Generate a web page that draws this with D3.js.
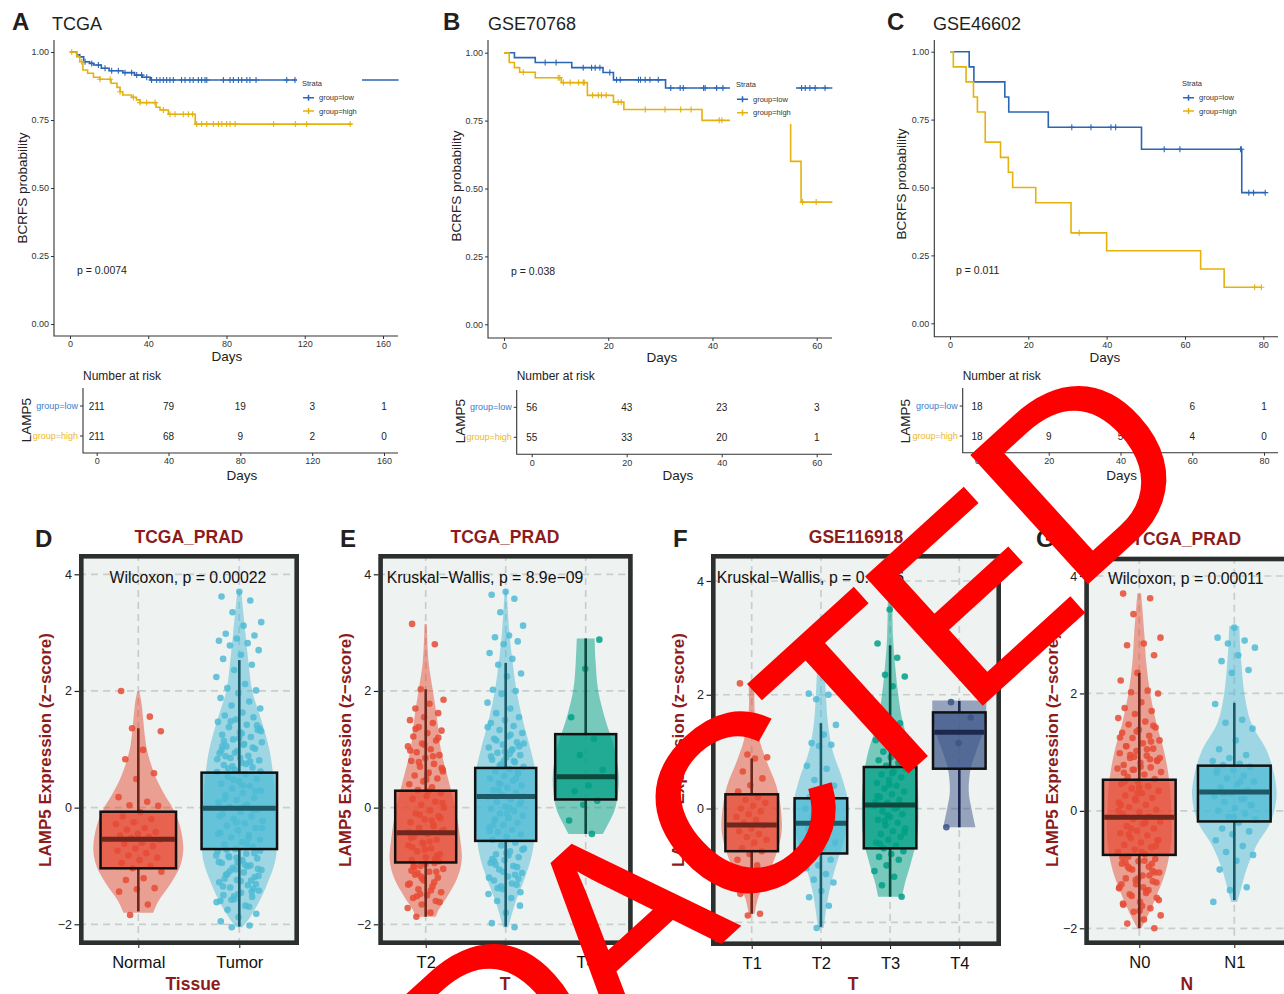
<!DOCTYPE html>
<html><head><meta charset="utf-8">
<script src="https://cdn.jsdelivr.net/npm/d3@7"></script>
<style>body{margin:0;background:#fff}svg{display:block}</style>
</head><body><svg id="c" width="1284" height="994"></svg>
<script>
// ================= DATA =================
const kmLetters = ["A", "B", "C"];
const kmTitles = ["TCGA", "GSE70768", "GSE46602"];
const kmPvals = ["p = 0.0074", "p = 0.038", "p = 0.011"];
const kmYTicks = [0, 0.25, 0.5, 0.75, 1];
const strataNames = ["group=low", "group=high"];

// TCGA
const tcgaXTicks = [0, 40, 80, 120, 160];
const tcgaLowSteps = [[0,1],[3.4,0.99],[5,0.982],[7,0.964],[10,0.958],[12,0.952],[16,0.94],[20,0.931],[27,0.924],[33,0.915],[37,0.907],[41,0.897]];
const tcgaLowEnd = 168;
const tcgaLowCens = [7.7,11.1,14.5,17.9,21.3,24.7,28.1,31.5,34.1,36.6,39.2,41.7,44.3,46,47.7,49.4,51.1,52.8,57,58.8,61.3,63,65.6,67.3,69,69.9,78.4,81.8,83.5,86.1,87.8,90.4,92,95.1,110.8,115];
const tcgaHighSteps = [[0,1],[3.5,0.982],[5,0.964],[6.6,0.934],[9,0.922],[12,0.907],[15.3,0.9],[21,0.885],[24,0.87],[25.6,0.854],[27,0.842],[31.5,0.833],[34,0.824],[35.8,0.814],[44,0.797],[46,0.787],[50.3,0.771],[64,0.735]];
const tcgaHighEnd = 144;
const tcgaHighCens = [0.9,6,15.3,20.5,25.6,32.4,35.8,39.2,43.5,47.7,51.1,53.7,57.9,60.5,62.7,64.8,67.3,69.9,73.3,75.9,77.6,80.1,81.8,84.4,104.1,115.2,121,143.2];
const tcgaRiskTimes = [0, 40, 80, 120, 160];
const tcgaRiskLow = [211, 79, 19, 3, 1];
const tcgaRiskHigh = [211, 68, 9, 2, 0];

// GSE70768
const g7XTicks = [0, 20, 40, 60];
const g7LowSteps = [[0,1],[2,0.982],[6,0.964],[13,0.945],[19,0.927],[21,0.9],[31,0.87]];
const g7LowEnd = 63;
const g7LowCens = [7.9,10,15.2,16.8,17.5,18.4,20.3,21.6,22.3,25.8,26.2,27.1,28,29.6,32,33.8,34.4,38.3,38.6,40.8,42,57.1,57.8,58.7,59.7,61.6];
const g7HighSteps = [[0,1],[1,0.964],[2,0.945],[3,0.928],[6,0.908],[11,0.89],[16,0.843],[21,0.818],[23,0.791],[38,0.751],[55,0.6],[57,0.45]];
const g7HighEnd = 63;
const g7HighCens = [3.7,10.4,10.7,11.4,12.7,14.3,15.2,15.4,17,18.1,18.7,19.6,21.9,22.5,27.1,30.9,33.9,35.9,41.3,41.8,57.3,59.9];
const g7RiskTimes = [0, 20, 40, 60];
const g7RiskLow = [56, 43, 23, 3];
const g7RiskHigh = [55, 33, 20, 1];

// GSE46602
const g4XTicks = [0, 20, 40, 60, 80];
const g4LowSteps = [[0,1],[4.9,0.944],[6.1,0.889],[14,0.833],[15,0.778],[25.1,0.722],[48.9,0.641],[74.5,0.481]];
const g4LowEnd = 80.5;
const g4LowCens = [31.1,36,41.1,42.3,54.7,58.7,74.2,74.4,76.3,77.5,80.5];
const g4HighSteps = [[0,1],[0.85,0.944],[4.1,0.889],[6,0.833],[7,0.778],[9,0.667],[12.9,0.611],[14.9,0.556],[16,0.5],[21.9,0.444],[30.9,0.333],[40,0.267],[64,0.2],[70,0.133]];
const g4HighEnd = 79.6;
const g4HighCens = [33,77.8,79.5];
const g4RiskTimes = [0, 20, 40, 60, 80];
const g4RiskLow = [18, 14, 11, 6, 1];
const g4RiskHigh = [18, 9, 5, 4, 0];

// Box/violin panels
const boxLetters = ["D", "E", "F", "G"];
const boxTitles = ["TCGA_PRAD", "TCGA_PRAD", "GSE116918", "TCGA_PRAD"];
const boxTests = ["Wilcoxon, p = 0.00022", "Kruskal\u2212Wallis, p = 8.9e\u221209", "Kruskal\u2212Wallis, p = 0.0016", "Wilcoxon, p = 0.00011"];
const boxXTitles = ["Tissue", "T", "T", "N"];
const boxYTicks = [-2, 0, 2, 4];
const catsD = ["Normal", "Tumor"];
const catsE = ["T2", "T3", "T4"];
const catsF = ["T1", "T2", "T3", "T4"];
const catsG = ["N0", "N1"];

// box stats: [lower whisker, q1, median, q3, upper whisker]
const statsD = [[-1.78,-1.04,-0.54,-0.07,1.36],[-2.04,-0.71,-0.01,0.6,2.53]];
const statsE = [[-1.87,-0.94,-0.43,0.29,2.03],[-2.04,-0.57,0.19,0.68,2.48],[-0.45,0.14,0.53,1.26,2.9]];
const statsF = [[-1.85,-0.75,-0.29,0.25,0.88],[-2.08,-0.79,-0.26,0.18,1.5],[-1.55,-0.7,0.06,0.73,2.87],[-0.33,0.7,1.34,1.69,1.89]];
const statsG = [[-2.0,-0.75,-0.11,0.53,2.35],[-1.52,-0.18,0.32,0.77,1.84]];

// violin profiles: [value, relative density]
const violD = [
  [[2.0,0.02],[1.8,0.07],[1.5,0.11],[1.2,0.15],[1.0,0.19],[0.7,0.3],[0.5,0.4],[0.2,0.6],[0,0.76],[-0.3,0.92],[-0.7,1],[-1.0,0.93],[-1.3,0.72],[-1.6,0.45],[-1.8,0.33]],
  [[3.72,0.05],[3.0,0.16],[2.5,0.24],[2.0,0.34],[1.5,0.58],[1.0,0.79],[0.5,0.9],[0,0.95],[-0.5,1],[-0.9,0.95],[-1.3,0.74],[-1.6,0.53],[-1.9,0.26],[-2.05,0.08]]];
const violE = [
  [[3.15,0.03],[2.5,0.08],[2.0,0.2],[1.6,0.3],[1.0,0.42],[0.5,0.62],[0,0.82],[-0.5,0.95],[-0.9,1],[-1.2,0.88],[-1.5,0.62],[-1.75,0.36],[-1.87,0.28]],
  [[3.75,0.03],[3.0,0.12],[2.5,0.22],[2.0,0.35],[1.5,0.55],[1.0,0.8],[0.5,1],[0.1,1],[-0.3,0.96],[-0.8,0.85],[-1.2,0.62],[-1.6,0.33],[-2.05,0.08]],
  [[2.9,0.27],[2.5,0.3],[2.0,0.38],[1.5,0.6],[1.0,0.88],[0.5,1],[0,0.9],[-0.3,0.66],[-0.45,0.52]]];
const violF = [
  [[2.2,0.1],[1.7,0.1],[1.2,0.26],[0.8,0.52],[0.4,0.82],[0,0.97],[-0.4,1],[-0.8,0.82],[-1.2,0.5],[-1.6,0.2],[-1.85,0.1]],
  [[3.0,0.07],[2.4,0.14],[2.0,0.18],[1.5,0.25],[1.0,0.43],[0.5,0.78],[0,1],[-0.5,0.86],[-1.0,0.54],[-1.5,0.28],[-2.1,0.1]],
  [[3.8,0.07],[3.0,0.1],[2.5,0.17],[2.0,0.27],[1.5,0.43],[1.0,0.73],[0.5,0.9],[0,0.94],[-0.5,0.9],[-1.0,0.67],[-1.3,0.5],[-1.55,0.4]],
  [[1.9,1],[1.6,0.98],[1.3,0.85],[1.0,0.62],[0.7,0.42],[0.3,0.35],[0,0.45],[-0.33,0.6]]];
const violG = [
  [[3.7,0.06],[3.0,0.16],[2.5,0.22],[2.0,0.34],[1.5,0.53],[1.0,0.78],[0.5,0.94],[0,1],[-0.5,1],[-1.0,0.84],[-1.5,0.5],[-1.8,0.25],[-2.0,0.06]],
  [[3.15,0.12],[2.8,0.14],[2.5,0.17],[2.0,0.24],[1.5,0.4],[1.0,0.79],[0.5,0.98],[0.2,1],[-0.2,0.86],[-0.6,0.52],[-1.0,0.29],[-1.3,0.17],[-1.55,0.07]]];

// points (LAMP5 z-scores)
const ptsD = [
  [2.0,1.56,1.36,1.31,0.99,0.83,0.59,0.49,0.18,0.1,0.04,0.03,-0.08,-0.15,-0.2,-0.25,-0.28,-0.35,-0.38,-0.42,-0.45,-0.48,-0.5,-0.52,-0.55,-0.6,-0.62,-0.66,-0.7,-0.74,-0.78,-0.82,-0.86,-0.9,-0.95,-1.0,-1.04,-1.1,-1.21,-1.24,-1.38,-1.4,-1.44,-1.66,-1.84],
  [3.7,3.62,3.55,3.35,3.18,3.12,2.98,2.95,2.9,2.86,2.82,2.78,2.7,2.62,2.55,2.45,2.36,2.24,2.12,2.05,2.01,1.96,1.88,1.82,1.75,1.7,1.63,1.58,1.55,1.51,1.47,1.42,1.38,1.33,1.29,1.25,1.21,1.17,1.12,1.09,1.05,1.01,0.97,0.93,0.89,0.85,0.81,0.77,0.73,0.69,0.65,0.61,0.57,0.53,0.49,0.45,0.41,0.37,0.33,0.29,0.25,0.21,0.17,0.13,0.09,0.05,0.01,-0.03,-0.07,-0.11,-0.15,-0.19,-0.23,-0.27,-0.31,-0.35,-0.39,-0.43,-0.47,-0.51,-0.55,-0.59,-0.63,-0.67,-0.71,-0.75,-0.79,-0.83,-0.87,-0.91,-0.95,-0.99,-1.03,-1.07,-1.11,-1.15,-1.19,-1.24,-1.28,-1.33,-1.37,-1.42,-1.46,-1.5,-1.53,-1.57,-1.62,-1.68,-1.75,-1.82,-1.88,-1.95,-2.02,-2.05,0.62,0.38,0.15,-0.05,-0.25,-0.45,-0.62,-0.85,-1.05,0.85,1.05,-1.25,0.48,-0.35,0.02,-0.72,0.28,-0.95,-0.15,-0.52,
   1.48,1.36,1.27,1.14,1.03,0.94,0.83,0.75,0.67,1.41,1.19,0.98,0.79,0.71,1.31,1.08,0.88,-0.78,-0.86,-0.93,-1.01,-1.09,-1.17,-1.26,-1.35,-1.44,-1.52,-0.82,-0.98,-1.14,-1.31,-1.48,-1.6,-1.7,-1.58,-0.74,-0.9,-1.22,-1.39,-1.06]];
const ptsE = [
  [3.15,2.8,2.03,1.85,1.78,1.7,1.62,1.55,1.5,1.45,1.38,1.32,1.28,1.22,1.15,1.1,1.05,1.0,0.95,0.9,0.85,0.8,0.75,0.7,0.65,0.6,0.55,0.5,0.45,0.4,0.35,0.3,0.25,0.2,0.15,0.1,0.05,0.0,-0.05,-0.1,-0.15,-0.2,-0.25,-0.3,-0.35,-0.4,-0.45,-0.5,-0.55,-0.6,-0.65,-0.7,-0.75,-0.8,-0.85,-0.9,-0.95,-1.0,-1.05,-1.1,-1.15,-1.2,-1.25,-1.3,-1.35,-1.4,-1.45,-1.5,-1.55,-1.6,-1.66,-1.72,-1.8,-1.87,-0.92,-0.72,-0.52,-0.32,-0.12,0.08,0.28,-1.02,-0.82,-0.62,-0.42,-0.22,-1.12,-0.18,0.48,-0.68,-0.88,-1.18,-0.38,-0.58,
   1.35,1.2,1.08,0.98,0.88,0.78,0.68,0.58,-1.0,-1.1,-1.22,-1.32,-1.42,-1.52,-1.62,-0.96,-1.08,-1.28,-1.48,0.62],
  [3.7,3.65,3.58,3.35,3.12,2.95,2.92,2.85,2.8,2.65,2.55,2.45,2.3,2.25,2.02,2.0,1.95,1.8,1.7,1.62,1.55,1.5,1.45,1.4,1.33,1.28,1.22,1.18,1.12,1.08,1.03,0.98,0.94,0.9,0.86,0.82,0.78,0.74,0.7,0.66,0.62,0.58,0.54,0.5,0.46,0.42,0.38,0.34,0.3,0.26,0.22,0.18,0.14,0.1,0.06,0.02,-0.02,-0.06,-0.1,-0.14,-0.18,-0.22,-0.26,-0.3,-0.34,-0.38,-0.42,-0.46,-0.5,-0.55,-0.6,-0.65,-0.7,-0.75,-0.8,-0.85,-0.9,-0.95,-1.0,-1.06,-1.12,-1.18,-1.25,-1.32,-1.4,-1.48,-1.55,-1.6,-1.68,-1.8,-1.98,-2.05,0.4,0.2,0.0,-0.2,0.6,0.8,-0.4,1.0,0.3,0.1,-0.1,-0.3,0.5,0.7,
   1.38,1.25,1.15,1.05,0.96,0.88,0.8,0.72,-0.72,-0.82,-0.92,-1.02,-1.1,-1.2,-1.3,-1.38,-1.45,-0.78,-0.88,-1.15,-1.35,1.1,0.92,-0.98,-1.22],
  [2.88,2.38,1.55,1.18,0.9,0.65,0.38,0.28,0.12,0.05,-0.22,-0.45]];
const ptsF = [
  [2.2,2.1,0.95,0.9,0.88,0.65,0.53,0.41,0.3,0.2,0.15,0.1,0.05,0.0,-0.05,-0.1,-0.15,-0.2,-0.25,-0.3,-0.35,-0.4,-0.45,-0.5,-0.55,-0.6,-0.7,-0.75,-0.8,-0.9,-1.0,-1.1,-1.2,-1.3,-1.5,-1.85,-1.88],
  [2.98,2.02,2.0,1.92,1.47,1.3,1.15,1.12,1.1,0.75,0.7,0.5,0.4,0.3,0.2,0.1,0.05,0.0,-0.1,-0.15,-0.2,-0.3,-0.35,-0.4,-0.5,-0.6,-0.7,-0.8,-0.9,-1.0,-1.05,-1.15,-1.25,-1.3,-1.45,-1.56,-1.71,-2.1],
  [3.8,3.5,2.9,2.65,2.35,2.32,2.15,1.75,1.5,1.3,1.2,1.1,1.0,0.95,0.9,0.85,0.8,0.75,0.7,0.65,0.6,0.55,0.5,0.45,0.4,0.35,0.3,0.25,0.2,0.15,0.1,0.05,0.0,-0.05,-0.1,-0.15,-0.2,-0.25,-0.3,-0.35,-0.4,-0.45,-0.5,-0.55,-0.6,-0.65,-0.7,-0.75,-0.8,-0.85,-0.9,-1.0,-1.1,-1.2,-1.35,-1.55,0.42,0.22,0.02,-0.22,-0.42,0.62,-0.62,0.82,-0.12,0.12],
  [1.87,1.6,1.15,-0.33]];
const ptsG = [
  [3.7,3.62,3.35,2.95,2.85,2.82,2.65,2.35,2.22,2.05,2.02,2.0,1.85,1.75,1.7,1.65,1.58,1.52,1.47,1.42,1.38,1.33,1.28,1.24,1.2,1.15,1.1,1.06,1.02,0.98,0.94,0.9,0.86,0.82,0.78,0.74,0.7,0.66,0.62,0.58,0.54,0.5,0.46,0.42,0.38,0.34,0.3,0.26,0.22,0.18,0.14,0.1,0.06,0.02,-0.02,-0.06,-0.1,-0.14,-0.18,-0.22,-0.26,-0.3,-0.34,-0.38,-0.42,-0.46,-0.5,-0.54,-0.58,-0.62,-0.66,-0.7,-0.74,-0.78,-0.82,-0.86,-0.9,-0.95,-1.0,-1.05,-1.1,-1.15,-1.2,-1.25,-1.3,-1.36,-1.42,-1.48,-1.55,-1.6,-1.66,-1.72,-1.78,-1.85,-1.92,-2.0,0.3,0.1,-0.1,-0.3,-0.5,-0.7,0.5,-0.9,0.2,0.0,-0.2,-0.4,-0.6,0.4,-0.8,-1.1,0.7,0.9,-1.3,1.1,
   1.45,1.35,1.25,1.05,0.95,0.85,0.75,0.65,1.18,0.92,0.72,-0.85,-0.95,-1.05,-1.15,-1.25,-1.35,-1.45,-1.52,-1.62,-0.88,-1.02,-1.18,-1.32,-1.4,-0.98,-1.22,-1.7,-1.58,0.88],
  [3.12,2.95,2.9,2.85,2.78,2.65,2.55,2.4,2.35,1.82,1.55,1.5,1.4,1.2,1.05,0.95,0.9,0.85,0.8,0.78,0.75,0.7,0.65,0.6,0.55,0.5,0.45,0.4,0.35,0.3,0.25,0.2,0.15,0.1,0.05,0.0,-0.05,-0.1,-0.15,-0.2,-0.3,-0.35,-0.4,-0.5,-0.6,-0.7,-0.75,-0.85,-1.0,-1.3,-1.35,-1.55,0.5,0.3,0.1,-0.1,0.7,0.2]];

const overlayText = "REDACTED";

// ================= STYLE =================
const FONT = "'Liberation Sans', Arial, Helvetica, sans-serif";
const strataColors = ["#2b66b5", "#e5b10c"];
const strataLabelColors = ["#4479cc", "#ecb82a"];
const npg = ["#E64B35", "#4DBBD5", "#00A087", "#3C5488"];
const npgDark = ["#6f271d", "#1c5a68", "#0c4a3c", "#1d2850"];
const titleRed = "#8c1c1c";

const svg = d3.select("#c").attr("font-family", FONT);

function styleAxis(sel, fs, col) {
  sel.attr("font-family", null).attr("font-size", null);
  sel.selectAll(".domain").remove();
  sel.selectAll(".tick line").attr("stroke", col);
  sel.selectAll(".tick text").attr("font-size", fs).attr("fill", col);
}
function survAt(steps, t) { let s = 1; for (const [tt, ss] of steps) if (tt <= t) s = ss; return s; }

// ================= KM =================
const kmLayouts = [
  {letterX:12, titleX:52, xr:[70,383], yr:[324,52], axX:54, axTop:40, axY:336, axEnd:398, yTitleX:22, yTitleY:188, daysX:227, daysY:356, pX:77, pY:270,
   legend:{x:302, strataY:83, lowY:97.7, highY:111, cover:[297,75,65,43]},
   risk:{xr:[96.7,384], axX:83, axTop:388, axY:453, lowY:406, highY:436, daysX:242, lampX:26, lampY:420}},
  {letterX:443, titleX:488, xr:[504,816.7], yr:[324.3,52.7], axX:488, axTop:40, axY:338, axEnd:832, yTitleX:456, yTitleY:186, daysX:662, daysY:357, pX:511, pY:271,
   legend:{x:736, strataY:84.7, lowY:99.3, highY:112.7, cover:[730,76,66,48]},
   risk:{xr:[531.7,816.7], axX:516.7, axTop:390, axY:454.3, lowY:407.3, highY:437.3, daysX:678, lampX:460, lampY:421}},
  {letterX:887, titleX:933, xr:[950,1263.3], yr:[323.3,51.7], axX:934.3, axTop:40, axY:336.7, axEnd:1278, yTitleX:901, yTitleY:184, daysX:1105, daysY:357, pX:956, pY:270,
   legend:{x:1182, strataY:83, lowY:97.7, highY:111, cover:[1178,75,70,43]},
   risk:{xr:[977,1264], axX:962.7, axTop:388, axY:452.7, lowY:406, highY:436, daysX:1121.7, lampX:905, lampY:421}}
];
const kmData = [
  {tmax:160, xticks:tcgaXTicks, strata:[{steps:tcgaLowSteps,end:tcgaLowEnd,cens:tcgaLowCens},{steps:tcgaHighSteps,end:tcgaHighEnd,cens:tcgaHighCens}], riskT:tcgaRiskTimes, risk:[tcgaRiskLow,tcgaRiskHigh]},
  {tmax:60, xticks:g7XTicks, strata:[{steps:g7LowSteps,end:g7LowEnd,cens:g7LowCens},{steps:g7HighSteps,end:g7HighEnd,cens:g7HighCens}], riskT:g7RiskTimes, risk:[g7RiskLow,g7RiskHigh]},
  {tmax:80, xticks:g4XTicks, strata:[{steps:g4LowSteps,end:g4LowEnd,cens:g4LowCens},{steps:g4HighSteps,end:g4HighEnd,cens:g4HighCens}], riskT:g4RiskTimes, risk:[g4RiskLow,g4RiskHigh]}
];

kmData.forEach((D, k) => {
  const L = kmLayouts[k];
  const g = svg.append("g");
  const ink = "#333";
  const x = d3.scaleLinear().domain([0, D.tmax]).range(L.xr);
  const y = d3.scaleLinear().domain([0, 1]).range(L.yr);
  g.append("text").attr("x", L.letterX).attr("y", 30).attr("font-size", 24).attr("font-weight", "bold").attr("fill", "#231f20").text(kmLetters[k]);
  g.append("text").attr("x", L.titleX).attr("y", 29.5).attr("font-size", 18).attr("fill", "#231f20").text(kmTitles[k]);
  const ya = g.append("g").attr("transform", `translate(${L.axX},0)`)
    .call(d3.axisLeft(y).tickValues(kmYTicks).tickFormat(d3.format(".2f")).tickSize(3).tickPadding(2));
  styleAxis(ya, 9, ink);
  const xa = g.append("g").attr("transform", `translate(0,${L.axY})`)
    .call(d3.axisBottom(x).tickValues(D.xticks).tickSize(3).tickPadding(2));
  styleAxis(xa, 9, ink);
  g.append("path").attr("d", `M${L.axX},${L.axTop}V${L.axY}H${L.axEnd}`).attr("fill", "none").attr("stroke", ink).attr("stroke-width", 1.1);
  g.append("text").attr("transform", `translate(${L.yTitleX},${L.yTitleY}) rotate(-90)`).attr("text-anchor", "middle").attr("dy", "0.35em")
    .attr("font-size", 13.5).attr("fill", "#222").text("BCRFS probability");
  g.append("text").attr("x", L.daysX).attr("y", L.daysY).attr("dy", "0.35em").attr("text-anchor", "middle").attr("font-size", 13.5).attr("fill", "#222").text("Days");
  g.append("text").attr("x", L.pX).attr("y", L.pY).attr("dy", "0.35em").attr("font-size", 10.5).attr("fill", "#222").text(kmPvals[k]);

  const line = d3.line().x(d => x(d[0])).y(d => y(d[1])).curve(d3.curveStepAfter);
  D.strata.forEach((s, i) => {
    const pts = s.steps.concat([[s.end, s.steps[s.steps.length - 1][1]]]);
    g.append("path").attr("d", line(pts)).attr("fill", "none").attr("stroke", strataColors[i]).attr("stroke-width", 1.6);
    g.append("path").attr("d", s.cens.map(t => { const cx = x(t), cy = y(survAt(s.steps, t)); return `M${cx - 3},${cy}h6M${cx},${cy - 3}v6`; }).join(""))
      .attr("stroke", strataColors[i]).attr("stroke-width", 1.1).attr("fill", "none");
  });
  // legend
  const lg = L.legend;
  g.append("rect").attr("x", lg.cover[0]).attr("y", lg.cover[1]).attr("width", lg.cover[2]).attr("height", lg.cover[3]).attr("fill", "#fff");
  g.append("text").attr("x", lg.x).attr("y", lg.strataY).attr("dy", "0.35em").attr("font-size", 7.5).attr("fill", "#333").text("Strata");
  strataNames.forEach((n, i) => {
    const yy = i ? lg.highY : lg.lowY;
    g.append("path").attr("d", `M${lg.x + 1},${yy}h11M${lg.x + 6.5},${yy - 3}v6`).attr("stroke", strataColors[i]).attr("stroke-width", 1.5);
    g.append("text").attr("x", lg.x + 17).attr("y", yy).attr("dy", "0.35em").attr("font-size", 7.5).attr("fill", "#333").text(n);
  });
  // risk table
  const R = L.risk;
  const rx = d3.scaleLinear().domain([0, D.tmax]).range(R.xr);
  g.append("text").attr("x", R.axX).attr("y", 376).attr("dy", "0.35em").attr("font-size", 12).attr("fill", "#222").text("Number at risk");
  const rxa = g.append("g").attr("transform", `translate(0,${R.axY})`).call(d3.axisBottom(rx).tickValues(D.riskT).tickSize(3).tickPadding(2));
  styleAxis(rxa, 9, ink);
  g.append("path").attr("d", `M${R.axX},${R.axTop}V${R.axY}H${L.axEnd}`).attr("fill", "none").attr("stroke", ink).attr("stroke-width", 1.1);
  D.risk.forEach((arr, i) => {
    const yy = i ? R.highY : R.lowY;
    g.append("line").attr("x1", R.axX - 3).attr("x2", R.axX).attr("y1", yy).attr("y2", yy).attr("stroke", ink);
    g.append("text").attr("x", R.axX - 5).attr("y", yy).attr("dy", "0.35em").attr("text-anchor", "end").attr("font-size", 9).attr("fill", strataLabelColors[i]).text(strataNames[i]);
    arr.forEach((n, j) => g.append("text").attr("x", rx(D.riskT[j])).attr("y", yy).attr("dy", "0.35em").attr("text-anchor", "middle").attr("font-size", 10).attr("fill", "#222").text(n));
  });
  g.append("text").attr("x", R.daysX).attr("y", 475).attr("dy", "0.35em").attr("text-anchor", "middle").attr("font-size", 13.5).attr("fill", "#222").text("Days");
  g.append("text").attr("transform", `translate(${R.lampX},${R.lampY}) rotate(-90)`).attr("text-anchor", "middle").attr("dy", "0.35em").attr("font-size", 13.5).attr("fill", "#222").text("LAMP5");
});

// ================= BOX / VIOLIN =================
const boxLayouts = [
  {frame:[79,554,299,945], cx:[138.3,239.3], y4:574.3, ym2:924.3, boxW:75.5, hw:[45,38], letterX:35, titleX:189, titleY:542.5, testX:188, testAnchor:"middle", testY:577, yTitleX:45, xTitleX:193},
  {frame:[378.3,554,632.7,945], cx:[425.7,585.7], y4:574.3, ym2:924.3, boxW:61, hw:[36,31,33], letterX:340, titleX:505, titleY:542.5, testX:386.7, testAnchor:"start", testY:577, yTitleX:345, xTitleX:505},
  {frame:[711,554,1001,946], cx:[751.7,959.3], y4:581, ym2:922.3, boxW:52.6, hw:[30,28,30,27], letterX:673, titleX:856, titleY:542.5, testX:716.7, testAnchor:"start", testY:577, yTitleX:678, xTitleX:853},
  {frame:[1084.3,556.7,1292,945], cx:[1139.3,1234.3], y4:576, ym2:928.3, boxW:72.7, hw:[32,42], letterX:1036, titleX:1186.7, titleY:545, testX:1185.7, testAnchor:"middle", testY:578, yTitleX:1051.7, xTitleX:1186.7}
];
const boxData = [
  {cats:catsD, stats:statsD, viol:violD, pts:ptsD},
  {cats:catsE, stats:statsE, viol:violE, pts:ptsE},
  {cats:catsF, stats:statsF, viol:violF, pts:ptsF},
  {cats:catsG, stats:statsG, viol:violG, pts:ptsG}
];

boxData.forEach((D, k) => {
  const L = boxLayouts[k];
  const g = svg.append("g");
  const [fx0, fy0, fx1, fy1] = L.frame;
  const y = d3.scaleLinear().domain([-2, 4]).range([L.ym2, L.y4]);
  const x = d3.scalePoint().domain(D.cats).range(L.cx);
  const sp = (L.cx[1] - L.cx[0]) / (D.cats.length - 1);
  const jw = 0.23 * sp;
  g.append("rect").attr("x", fx0).attr("y", fy0).attr("width", fx1 - fx0).attr("height", fy1 - fy0).attr("fill", "#eef2f1");
  // grid
  boxYTicks.forEach(v => g.append("line").attr("x1", fx0).attr("x2", fx1).attr("y1", y(v)).attr("y2", y(v))
    .attr("stroke", "#c9cdcc").attr("stroke-width", 1.7).attr("stroke-dasharray", "7,5"));
  D.cats.forEach(c => g.append("line").attr("x1", x(c)).attr("x2", x(c)).attr("y1", fy0).attr("y2", fy1)
    .attr("stroke", "#c9cdcc").attr("stroke-width", 1.7).attr("stroke-dasharray", "7,5"));
  D.cats.forEach((c, i) => {
    const cx = x(c), hw = L.hw[i], col = npg[i], dk = npgDark[i];
    const area = d3.area().y(d => y(d[0])).x0(d => cx - d[1] * hw).x1(d => cx + d[1] * hw).curve(d3.curveCatmullRom);
    g.append("path").attr("d", area(D.viol[i])).attr("fill", col).attr("fill-opacity", 0.5);
    D.pts[i].forEach((v, j) => {
      const off = (((j * 0.618034 + 0.37 * i + 0.13) % 1) - 0.5) * 2 * jw;
      g.append("circle").attr("cx", cx + off).attr("cy", y(v)).attr("r", 3.3).attr("fill", col).attr("fill-opacity", 0.85);
    });
    const [wl, q1, md, q3, wh] = D.stats[i];
    g.append("line").attr("x1", cx).attr("x2", cx).attr("y1", y(wl)).attr("y2", y(q1)).attr("stroke", dk).attr("stroke-width", 2.6);
    g.append("line").attr("x1", cx).attr("x2", cx).attr("y1", y(q3)).attr("y2", y(wh)).attr("stroke", dk).attr("stroke-width", 2.6);
    g.append("rect").attr("x", cx - L.boxW / 2).attr("y", y(q3)).attr("width", L.boxW).attr("height", y(q1) - y(q3))
      .attr("fill", col).attr("fill-opacity", 0.72).attr("stroke", "#111").attr("stroke-width", 2.5);
    g.append("line").attr("x1", cx - L.boxW / 2 + 1.2).attr("x2", cx + L.boxW / 2 - 1.2).attr("y1", y(md)).attr("y2", y(md)).attr("stroke", dk).attr("stroke-width", 5);
  });
  // frame
  g.append("rect").attr("x", fx0 + 2.3).attr("y", fy0 + 2.3).attr("width", fx1 - fx0 - 4.6).attr("height", fy1 - fy0 - 4.6)
    .attr("fill", "none").attr("stroke", "#2b302e").attr("stroke-width", 4.6);
  // axes
  const ya = g.append("g").attr("transform", `translate(${fx0},0)`).call(d3.axisLeft(y).tickValues(boxYTicks).tickFormat(d3.format("d")).tickSize(4.5).tickPadding(2.5));
  styleAxis(ya, 12.5, "#222");
  ya.selectAll(".tick line").attr("stroke-width", 1.2);
  const xa = g.append("g").attr("transform", `translate(0,${fy1})`).call(d3.axisBottom(x).tickSize(3).tickPadding(8));
  styleAxis(xa, 16.5, "#111");
  // texts
  g.append("text").attr("x", L.letterX).attr("y", 546.5).attr("font-size", 24).attr("font-weight", "bold").attr("fill", "#231f20").text(boxLetters[k]);
  g.append("text").attr("x", L.titleX).attr("y", L.titleY).attr("text-anchor", "middle").attr("font-size", 17.5).attr("font-weight", "bold").attr("fill", titleRed).text(boxTitles[k]);
  g.append("text").attr("x", L.testX).attr("y", L.testY).attr("dy", "0.35em").attr("text-anchor", L.testAnchor).attr("font-size", 15.8).attr("fill", "#111").text(boxTests[k]);
  g.append("text").attr("transform", `translate(${L.yTitleX},750) rotate(-90)`).attr("text-anchor", "middle").attr("dy", "0.35em")
    .attr("font-size", 17).attr("font-weight", "bold").attr("fill", titleRed).text("LAMP5 Expression (z\u2212score)");
  g.append("text").attr("x", L.xTitleX).attr("y", 990).attr("text-anchor", "middle").attr("font-size", 17.5).attr("font-weight", "bold").attr("fill", titleRed).text(boxXTitles[k]);
});

// ================= OVERLAY =================
const overlayNudge = [[0,0],[0,0],[0,0],[0,0],[0,0],[0,0],[0,0],[1,-19]];
svg.append("text").attr("transform", "translate(243,1377) rotate(-42.3)").attr("font-size", 250)
  .attr("letter-spacing", -8)
  .attr("font-family", "'Liberation Sans', Arial, sans-serif").attr("fill", "#ff0000")
  .attr("stroke", "#ff0000").attr("stroke-width", 3).attr("stroke-linejoin", "miter")
  .selectAll("tspan").data(overlayText.split("")).join("tspan")
  .attr("dx", (d, i) => overlayNudge[i][0] || null)
  .attr("dy", (d, i) => overlayNudge[i][1] || null)
  .text(d => d);
</script></body></html>
